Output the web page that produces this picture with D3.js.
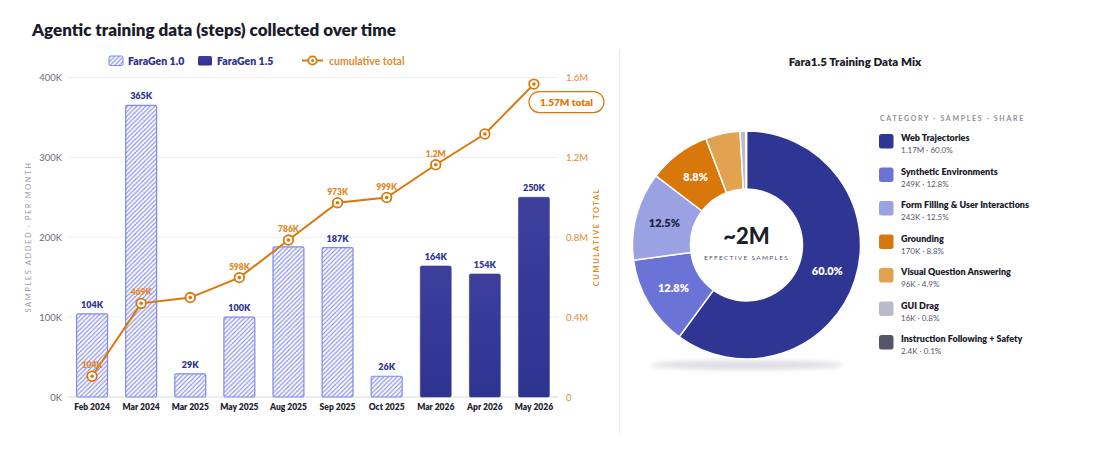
<!DOCTYPE html>
<html>
<head>
<meta charset="utf-8">
<script src="https://cdn.jsdelivr.net/npm/d3@7"></script>
<style>
  html, body { margin: 0; padding: 0; background: #ffffff; }
  svg { display: block; font-family: Lato, "Noto Sans", sans-serif; }
</style>
</head>
<body>
<svg id="chart" width="1096" height="449"></svg>
<script>
// ---------- data ----------
const months = ["Feb 2024","Mar 2024","Mar 2025","May 2025","Aug 2025","Sep 2025","Oct 2025","Mar 2026","Apr 2026","May 2026"];
const generation = ["FaraGen 1.0","FaraGen 1.0","FaraGen 1.0","FaraGen 1.0","FaraGen 1.0","FaraGen 1.0","FaraGen 1.0","FaraGen 1.5","FaraGen 1.5","FaraGen 1.5"];
const monthlySamplesK = [104, 365, 29, 100, 188, 187, 26, 164, 154, 250];
const cumulativeK = [104, 469, 498, 598, 786, 973, 999, 1163, 1317, 1567];
const barLabels = ["104K","365K","29K","100K","","187K","26K","164K","154K","250K"];
const cumLabels = ["104K","469K","","598K","786K","973K","999K","1.2M","",""];
const leftTicks = [0, 100, 200, 300, 400];
const leftTickLabels = ["0K","100K","200K","300K","400K"];
const rightTicks = [0, 400, 800, 1200, 1600];
const rightTickLabels = ["0","0.4M","0.8M","1.2M","1.6M"];
const totalCallout = "1.57M total";

const mixCategories = ["Web Trajectories","Synthetic Environments","Form Filling & User Interactions","Grounding","Visual Question Answering","GUI Drag","Instruction Following + Safety"];
const mixShare = [60.0, 12.8, 12.5, 8.8, 4.9, 0.8, 0.1];
const mixSampleLabels = ["1.17M","249K","243K","170K","96K","16K","2.4K"];
const mixColors = ["#2e3592","#6b74d6","#9ba2e3","#d9780a","#e2a250","#b9bcc8","#565567"];
const mixLabelColors = ["#ffffff","#ffffff","#23233a","#ffffff"];

// ---------- styles ----------
const NAVY = "#2e3592", HATCH = "#7c83e4", ORANGE = "#d9780a", GRID = "#efeff2";

const svg = d3.select("#chart");
const defs = svg.append("defs");

const pat = defs.append("pattern").attr("id","hatch").attr("patternUnits","userSpaceOnUse")
  .attr("width",4.5).attr("height",4.5);
pat.append("rect").attr("width",4.5).attr("height",4.5).attr("fill","#f8f8ff");
pat.append("path").attr("d","M0,4.5 L4.5,0 M-1.125,1.125 L1.125,-1.125 M3.375,5.625 L5.625,3.375")
  .attr("stroke",HATCH).attr("stroke-width",1);

const grad = defs.append("linearGradient").attr("id","navyGrad").attr("x1",0).attr("x2",0).attr("y1",0).attr("y2",1);
grad.append("stop").attr("offset","0%").attr("stop-color","#3d3f9b");
grad.append("stop").attr("offset","100%").attr("stop-color","#2d3490");

const blur = defs.append("filter").attr("id","blur").attr("x","-20%").attr("y","-200%").attr("width","140%").attr("height","500%");
blur.append("feGaussianBlur").attr("stdDeviation",2.5);

// ---------- title ----------
svg.append("text").attr("x",32).attr("y",36)
  .attr("font-size",17).attr("font-weight",800).attr("fill","#1c1c2b")
  .text("Agentic training data (steps) collected over time");

// ---------- scales ----------
const x = d3.scaleBand().domain(months).range([67.5, 558.5]).paddingInner(0.37).paddingOuter(0.185);
const yL = d3.scaleLinear().domain([0, 400]).range([397, 77.5]);
const yR = d3.scaleLinear().domain([0, 1600]).range([397, 77.5]);

// grid
const g = svg.append("g");
g.selectAll("line.grid").data(leftTicks).join("line")
  .attr("x1",67.5).attr("x2",558.5)
  .attr("y1",d=>yL(d)).attr("y2",d=>yL(d))
  .attr("stroke",(d)=>d===0?"#d8d8de":GRID).attr("stroke-width",1);

// left axis
const axL = d3.axisLeft(yL).tickValues(leftTicks).tickFormat((d,i)=>leftTickLabels[i]).tickSize(0).tickPadding(0);
const gL = svg.append("g").attr("transform","translate(62,0)").call(axL);
gL.select(".domain").remove();
gL.selectAll("text").attr("font-size",9.5).attr("fill","#6b6b78").attr("font-family","Lato, sans-serif").attr("dy","0.32em");

// right axis
const axR = d3.axisRight(yR).tickValues(rightTicks).tickFormat((d,i)=>rightTickLabels[i]).tickSize(0).tickPadding(0);
const gR = svg.append("g").attr("transform","translate(566,0)").call(axR);
gR.select(".domain").remove();
gR.selectAll("text").attr("font-size",9.5).attr("fill","#e08a2a").attr("font-family","Lato, sans-serif").attr("dy","0.32em");

// axis titles
svg.append("text").attr("transform","translate(31,237) rotate(-90)")
  .attr("text-anchor","middle").attr("font-size",7.5).attr("letter-spacing",1.6)
  .attr("fill","#9a9aa6").text("SAMPLES ADDED · PER MONTH");
svg.append("text").attr("transform","translate(599,237) rotate(-90)")
  .attr("text-anchor","middle").attr("font-size",7.5).attr("letter-spacing",1.6).attr("font-weight",700)
  .attr("fill","#e08a2a").text("CUMULATIVE TOTAL");

// x axis
const axB = d3.axisBottom(x).tickSize(0).tickPadding(0);
const gB = svg.append("g").attr("transform","translate(0,404)").call(axB);
gB.select(".domain").remove();
gB.selectAll("text").attr("font-size",8.5).attr("font-weight",800).attr("fill","#24242f").attr("font-family","Lato, sans-serif").attr("dy","0.71em");

// bars
const bars = svg.append("g");
bars.selectAll("rect").data(monthlySamplesK).join("rect")
  .attr("x",(d,i)=>x(months[i]))
  .attr("width",x.bandwidth())
  .attr("y",d=>yL(d))
  .attr("height",d=>yL(0)-yL(d))
  .attr("rx",1.5)
  .attr("fill",(d,i)=>generation[i]==="FaraGen 1.0"?"url(#hatch)":"url(#navyGrad)")
  .attr("stroke",(d,i)=>generation[i]==="FaraGen 1.0"?"#8389e8":"#3a3d97")
  .attr("stroke-width",(d,i)=>generation[i]==="FaraGen 1.0"?1.2:0.6);

bars.selectAll("text").data(monthlySamplesK).join("text")
  .attr("x",(d,i)=>x(months[i])+x.bandwidth()/2)
  .attr("y",d=>yL(d)-6)
  .attr("text-anchor","middle").attr("font-size",9).attr("font-weight",800).attr("fill",NAVY)
  .text((d,i)=>barLabels[i]);

// cumulative line
const line = d3.line().x((d,i)=>x(months[i])+x.bandwidth()/2).y(d=>yR(d));
svg.append("path").datum(cumulativeK).attr("d",line)
  .attr("fill","none").attr("stroke",ORANGE).attr("stroke-width",2);

const pts = svg.append("g");
pts.selectAll("circle.o").data(cumulativeK).join("circle")
  .attr("cx",(d,i)=>x(months[i])+x.bandwidth()/2).attr("cy",d=>yR(d))
  .attr("r",4.8).attr("fill","#ffffff").attr("stroke",ORANGE).attr("stroke-width",1.8);
pts.selectAll("circle.i").data(cumulativeK).join("circle")
  .attr("cx",(d,i)=>x(months[i])+x.bandwidth()/2).attr("cy",d=>yR(d))
  .attr("r",1.8).attr("fill",ORANGE);
pts.selectAll("text").data(cumulativeK).join("text")
  .attr("x",(d,i)=>x(months[i])+x.bandwidth()/2).attr("y",d=>yR(d)-8)
  .attr("text-anchor","middle").attr("font-size",8.5).attr("font-weight",800).attr("fill","#e08a2a")
  .text((d,i)=>cumLabels[i]);

// callout
const last = cumulativeK.length-1;
const cx0 = x(months[last])+x.bandwidth()/2;
const callG = svg.append("g");
callG.append("rect").attr("x",cx0-5).attr("y",yR(cumulativeK[last])+7.5).attr("width",75).attr("height",21)
  .attr("rx",10.5).attr("fill","#ffffff").attr("stroke",ORANGE).attr("stroke-width",1.2);
callG.append("text").attr("x",cx0+32.5).attr("y",yR(cumulativeK[last])+21.5)
  .attr("text-anchor","middle").attr("font-size",10).attr("font-weight",800).attr("fill",ORANGE)
  .text(totalCallout);

// legend
const lg = svg.append("g");
lg.append("rect").attr("x",109).attr("y",56).attr("width",14).attr("height",9.5).attr("rx",1.5)
  .attr("fill","url(#hatch)").attr("stroke","#8389e8").attr("stroke-width",1);
lg.append("text").attr("x",128).attr("y",64.5).attr("font-size",10.5).attr("font-weight",800).attr("fill",NAVY).text("FaraGen 1.0");
lg.append("rect").attr("x",198).attr("y",56).attr("width",14).attr("height",9.5).attr("rx",1.5)
  .attr("fill","url(#navyGrad)");
lg.append("text").attr("x",217).attr("y",64.5).attr("font-size",10.5).attr("font-weight",800).attr("fill",NAVY).text("FaraGen 1.5");
lg.append("line").attr("x1",302).attr("x2",323).attr("y1",60.5).attr("y2",60.5).attr("stroke",ORANGE).attr("stroke-width",2);
lg.append("circle").attr("cx",312.5).attr("cy",60.5).attr("r",4.2).attr("fill","#fff").attr("stroke",ORANGE).attr("stroke-width",1.8);
lg.append("circle").attr("cx",312.5).attr("cy",60.5).attr("r",1.5).attr("fill",ORANGE);
lg.append("text").attr("x",329).attr("y",64.5).attr("font-size",10.5).attr("font-weight",700).attr("fill","#e08a2a").text("cumulative total");

// divider
svg.append("line").attr("x1",619.5).attr("x2",619.5).attr("y1",50).attr("y2",433).attr("stroke","#e8e8ec").attr("stroke-width",1);

// ---------- donut ----------
svg.append("text").attr("x",855).attr("y",66).attr("text-anchor","middle")
  .attr("font-size",11.5).attr("font-weight",800).attr("fill","#1c1c2b").text("Fara1.5 Training Data Mix");

const dcx = 746.5, dcy = 245, rOut = 114, rIn = 56;
svg.append("ellipse").attr("cx",dcx).attr("cy",365).attr("rx",96).attr("ry",4.5)
  .attr("fill","#dcdce2").attr("filter","url(#blur)");

const pie = d3.pie().sort(null).value(d=>d);
const arcs = pie(mixShare);
const arc = d3.arc().innerRadius(rIn).outerRadius(rOut);
const labelArc = d3.arc().innerRadius(85).outerRadius(85);
const dg = svg.append("g").attr("transform",`translate(${dcx},${dcy})`);
dg.selectAll("path").data(arcs).join("path")
  .attr("d",arc).attr("fill",(d,i)=>mixColors[i]).attr("stroke","#ffffff").attr("stroke-width",1.5);
dg.selectAll("text.pl").data(arcs.filter(d=>d.data>=8)).join("text")
  .attr("class","pl")
  .attr("transform",d=>`translate(${labelArc.centroid(d)})`)
  .attr("text-anchor","middle").attr("dy","0.35em")
  .attr("font-size",11).attr("font-weight",800)
  .attr("fill",(d)=>mixLabelColors[d.index])
  .text(d=>d.data.toFixed(1)+"%");
dg.append("text").attr("y",-1).attr("text-anchor","middle").attr("font-size",22).attr("font-weight",900)
  .attr("fill","#1c1c2b").text("~2M");
dg.append("text").attr("y",15).attr("text-anchor","middle").attr("font-size",6.5).attr("letter-spacing",1.3)
  .attr("fill","#55556a").text("EFFECTIVE SAMPLES");

// donut legend
svg.append("text").attr("x",880).attr("y",121).attr("font-size",7).attr("letter-spacing",1.7).attr("font-weight",700)
  .attr("fill","#8e8e9c").text("CATEGORY · SAMPLES · SHARE");
const items = svg.append("g").selectAll("g").data(mixCategories).join("g")
  .attr("transform",(d,i)=>`translate(879,${134 + i*33.5})`);
items.append("rect").attr("width",14.5).attr("height",14.5).attr("rx",2.5).attr("fill",(d,i)=>mixColors[i]);
items.append("text").attr("x",22).attr("y",7).attr("font-size",9).attr("font-weight",800).attr("fill","#1c1c2b").text(d=>d);
items.append("text").attr("x",22).attr("y",19).attr("font-size",8).attr("fill","#55556a")
  .text((d,i)=>`${mixSampleLabels[i]} · ${mixShare[i].toFixed(1)}%`);
</script>
</body>
</html>
